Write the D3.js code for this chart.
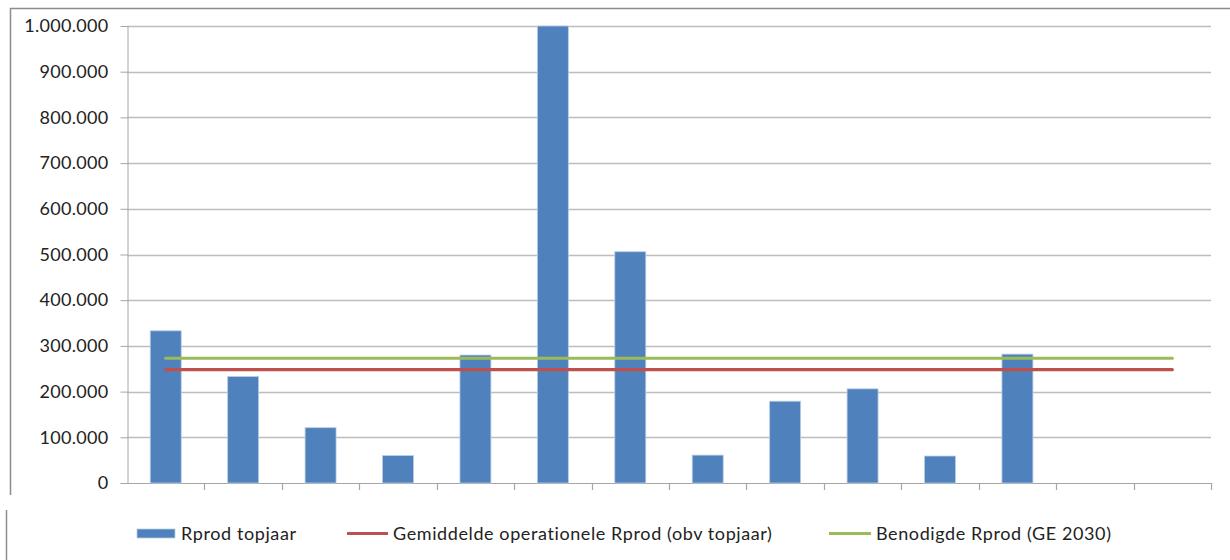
<!DOCTYPE html>
<html>
<head>
<meta charset="utf-8">
<script src="https://cdn.jsdelivr.net/npm/d3@7"></script>
<style>
  html, body { margin: 0; padding: 0; background: #fff; }
  svg { display: block; font-family: Lato, "Open Sans", "Liberation Sans", sans-serif; }
</style>
</head>
<body>
<svg id="chart" width="1230" height="560"></svg>
<script>
// 14 category slots along the x axis (unlabelled)
const categories = d3.range(1, 15).map(String);

// Bar series: Rprod topjaar (last two slots empty)
const rprodTopjaar = [333000, 233000, 121000, 60000, 280000, 1000000, 506000, 61000, 179000, 206000, 59000, 282000, null, null];

// Horizontal reference series
const gemiddeldeOperationeel = categories.map(() => 248000);
const benodigdGE2030 = categories.map(() => 273000);

const yTicks = [0, 100000, 200000, 300000, 400000, 500000, 600000, 700000, 800000, 900000, 1000000];

const seriesNames = ["Rprod topjaar", "Gemiddelde operationele Rprod (obv topjaar)", "Benodigde Rprod (GE 2030)"];
const colors = { bar: "#4F81BD", red: "#C0504D", green: "#9BBB59" };

const svg = d3.select("#chart");
const margin = { left: 127, right: 19, top: 26, bottom: 77 };
const W = 1230, H = 560;
const plotBottom = 483;

const x = d3.scaleBand().domain(categories).range([margin.left, W - margin.right]).paddingInner(0).paddingOuter(0);
const y = d3.scaleLinear().domain([0, 1000000]).range([plotBottom, margin.top]);

const fmt = v => d3.format(",")(v).replace(/,/g, ".");

// Chart frame (top and left edges)
svg.append("path")
  .attr("d", `M10.5,495 L10.5,8.5 L${W},8.5`)
  .attr("fill", "none").attr("stroke", "#8c8c8c").attr("stroke-width", 1.5);
svg.append("line")
  .attr("x1", 6.5).attr("x2", 6.5).attr("y1", 510).attr("y2", 560)
  .attr("stroke", "#8c8c8c").attr("stroke-width", 1.5);

// Gridlines
svg.append("g").selectAll("line").data(yTicks.slice(1)).join("line")
  .attr("x1", margin.left).attr("x2", W - margin.right)
  .attr("y1", d => Math.round(y(d)) + 0.5).attr("y2", d => Math.round(y(d)) + 0.5)
  .attr("stroke", "#bdbdbd").attr("stroke-width", 1.4);

// Y axis
const yAxis = svg.append("g").attr("transform", `translate(${margin.left + 0.5},0)`)
  .call(d3.axisLeft(y).tickValues(yTicks).tickFormat(fmt).tickSize(7).tickSizeOuter(0).tickPadding(12));
yAxis.select(".domain").attr("stroke", "#a6a6a6");
yAxis.selectAll(".tick line").attr("stroke", "#a6a6a6");
yAxis.selectAll(".tick text").attr("font-size", 18).attr("letter-spacing", 0.3)
  .attr("fill", "#222").attr("font-family", "Lato, sans-serif");

// X axis with category boundary ticks
const xAxisG = svg.append("g");
xAxisG.append("line")
  .attr("x1", margin.left).attr("x2", W - margin.right)
  .attr("y1", plotBottom + 0.5).attr("y2", plotBottom + 0.5)
  .attr("stroke", "#a6a6a6").attr("stroke-width", 1.2);
const boundaries = categories.map(c => x(c)).concat([x(categories[categories.length - 1]) + x.bandwidth()]);
xAxisG.selectAll("line.tk").data(boundaries.slice(1)).join("line").attr("class", "tk")
  .attr("x1", d => Math.round(d) + 0.5).attr("x2", d => Math.round(d) + 0.5)
  .attr("y1", plotBottom).attr("y2", plotBottom + 7)
  .attr("stroke", "#a6a6a6").attr("stroke-width", 1.2);

// Bars
const barW = x.bandwidth() / 2.5;
svg.append("g").selectAll("rect")
  .data(categories.map((c, i) => ({ c, v: rprodTopjaar[i] })).filter(d => d.v != null))
  .join("rect")
  .attr("x", d => x(d.c) + (x.bandwidth() - barW) / 2)
  .attr("width", barW)
  .attr("y", d => y(d.v))
  .attr("height", d => y(0) - y(d.v))
  .attr("fill", colors.bar)
  .attr("stroke", "#b9cde5").attr("stroke-width", 0.8);

// Reference lines
const line = d3.line().x((d, i) => x(categories[i]) + x.bandwidth() / 2).y(d => y(d));
svg.append("path").datum(gemiddeldeOperationeel).attr("d", line)
  .attr("fill", "none").attr("stroke", colors.red).attr("stroke-width", 3.2).attr("stroke-linecap", "round");
svg.append("path").datum(benodigdGE2030).attr("d", line)
  .attr("fill", "none").attr("stroke", colors.green).attr("stroke-width", 3.2).attr("stroke-linecap", "round");

// Legend
const lg = svg.append("g").attr("font-size", 18).attr("letter-spacing", 0.6).attr("fill", "#222");
lg.append("rect").attr("x", 137).attr("y", 529).attr("width", 38).attr("height", 9)
  .attr("fill", colors.bar).attr("stroke", "#b9cde5").attr("stroke-width", 0.8);
lg.append("text").attr("x", 181).attr("y", 540).text(seriesNames[0]);
lg.append("line").attr("x1", 347).attr("x2", 388).attr("y1", 533.5).attr("y2", 533.5)
  .attr("stroke", colors.red).attr("stroke-width", 3.2);
lg.append("text").attr("x", 393).attr("y", 540).text(seriesNames[1]);
lg.append("line").attr("x1", 829).attr("x2", 871).attr("y1", 533.5).attr("y2", 533.5)
  .attr("stroke", colors.green).attr("stroke-width", 3.2);
lg.append("text").attr("x", 876).attr("y", 540).text(seriesNames[2]);
</script>
</body>
</html>
